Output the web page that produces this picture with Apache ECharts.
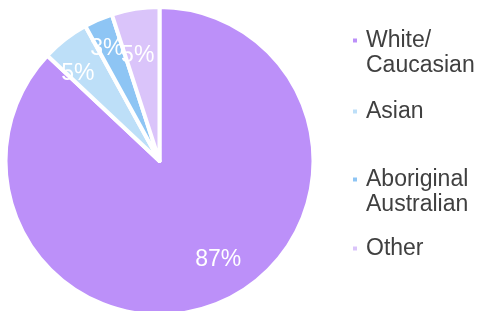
<!DOCTYPE html>
<html>
<head>
<meta charset="utf-8">
<script src="https://cdn.jsdelivr.net/npm/echarts@6/dist/echarts.min.js"></script>
<style>
html, body { margin: 0; padding: 0; background: #fff; }
#pieChart { width: 482px; height: 311px; }
</style>
</head>
<body>
<div id="pieChart"></div>
<script>
// 数据
var categories = ['White/Caucasian', 'Asian', 'Aboriginal Australian', 'Other'];
var legendLabels = ['White/\nCaucasian', 'Asian', 'Aboriginal\nAustralian', 'Other'];
var values = [87, 5, 3, 5];
var colors = ['#BC90F9', '#BDDFF8', '#8EC5F4', '#DAC4FA'];

var myPieChart = function () {
    var chart = echarts.init(document.getElementById('pieChart'));

    // 图例位置 与 标签微调
    var legendTops = [3, 99, 142, 236];
    var labelNudge = [[11, -11], [-8, 7], [-5, -2], [-3, 13]];

    var data = categories.map(function (name, i) {
        return { name: name, value: values[i], itemStyle: { color: colors[i] } };
    });

    // 每个图例单独放置, 首行与图标对齐
    var legends = categories.map(function (name, i) {
        var twoLines = legendLabels[i].indexOf('\n') >= 0;
        return {
            orient: 'vertical',
            left: 351,
            top: legendTops[i],
            padding: 0,
            itemWidth: 6,
            itemHeight: 6,
            icon: 'rect',
            selectedMode: false,
            data: [name],
            formatter: function () {
                return (twoLines ? '\n' : '') + legendLabels[i];
            },
            textStyle: {
                fontFamily: 'Liberation Sans, Arial, sans-serif',
                fontSize: 23,
                lineHeight: 25,
                color: '#404040',
                padding: [0, 0, 0, 3]
            }
        };
    });

    var option = {
        animation: false,
        legend: legends,
        series: [
            {
                name: 'pie',
                type: 'pie',
                center: [159.5, 161],
                radius: [0, 154],
                startAngle: 90,
                clockwise: true,
                label: { show: false },
                labelLine: { show: false },
                itemStyle: { borderColor: '#fff', borderWidth: 4 },
                emphasis: { disabled: true },
                data: data
            },
            {
                name: 'labels',
                type: 'pie',
                center: [159.5, 161],
                radius: [82, 152],
                startAngle: 90,
                clockwise: true,
                silent: true,
                avoidLabelOverlap: false,
                labelLayout: { hideOverlap: false },
                legendHoverLink: false,
                itemStyle: { color: 'rgba(0,0,0,0)' },
                label: {
                    show: true,
                    position: 'inside',
                    formatter: '{d}%',
                    color: '#fff',
                    fontFamily: 'Liberation Sans, Arial, sans-serif',
                    fontSize: 23
                },
                labelLine: { show: false },
                data: categories.map(function (name, i) {
                    return {
                        name: name,
                        value: values[i],
                        label: { offset: labelNudge[i] }
                    };
                })
            }
        ]
    };
    chart.setOption(option);
};

myPieChart();
</script>
</body>
</html>
